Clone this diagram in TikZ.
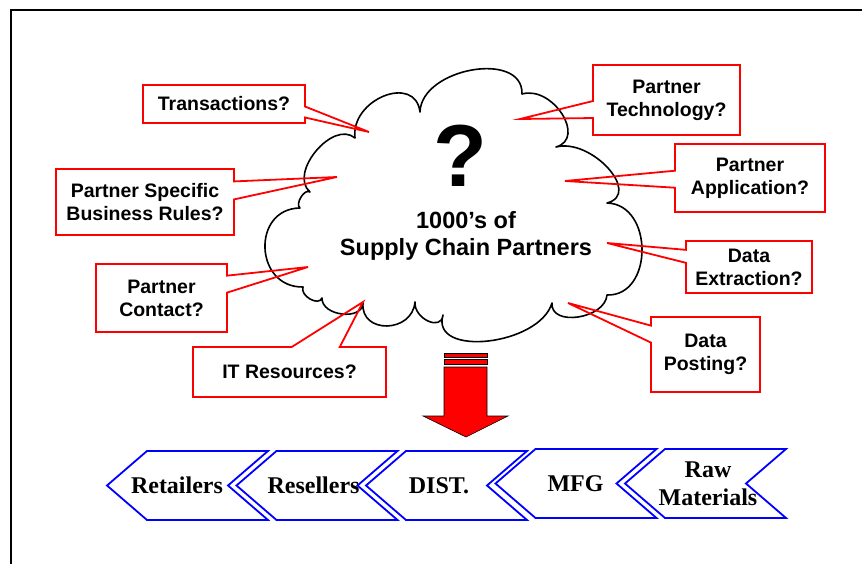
\documentclass[tikz,border=0pt]{standalone}
\usepackage{fontspec}
\setmainfont{Liberation Sans}
\newfontfamily\chevfont{Liberation Serif}
\usetikzlibrary{shapes.callouts}

\begin{document}
\begin{tikzpicture}[x=1pt, y=-1pt,
  every node/.style={font=\bfseries\fontsize{19.5}{23}\selectfont},
  note/.style={rectangle callout, draw=red, line width=1.8pt, align=center, inner sep=0pt},
  chev/.style={draw=blue, line width=1.8pt, line join=miter},
  chevtext/.style={font=\chevfont\bfseries\fontsize{24}{28}\selectfont, align=center},
  cloudline/.style={draw=black, line width=1.6pt, line join=round, fill=white},
  bigarrow/.style={fill=red, draw=black, line width=0.6pt}
]
  \useasboundingbox (0,0) rectangle (862,564);
  \draw[line width=2.5pt] (11,564) -- (11,10) -- (862,10);

  \draw[cloudline] (355,138)
    .. controls (350.3,99.3) and (415.3,73.3) .. (420,112)
    .. controls (421.3,68) and (523.3,50) .. (522,94)
    .. controls (552.7,85.3) and (586.7,138.3) .. (556,147)
    .. controls (591.3,137.7) and (642.3,193.7) .. (607,203)
    .. controls (653.7,204.3) and (653.7,296.3) .. (607,295)
    .. controls (605,319) and (550,327) .. (552,303)
    .. controls (539.3,345.7) and (430.3,357.7) .. (443,315)
    .. controls (441.7,331.7) and (413.7,318.7) .. (415,302)
    .. controls (412.3,333.3) and (360.3,334.3) .. (363,303)
    .. controls (362.3,321) and (321.3,316) .. (322,298)
    .. controls (318.7,306.7) and (299.7,295.7) .. (303,287)
    .. controls (254.3,287.7) and (251.3,208.7) .. (300,208)
    .. controls (294.7,204) and (304.7,188) .. (310,192)
    .. controls (288,173.3) and (333,119.3) .. (355,138) -- cycle;

  \node[anchor=base, font=\bfseries\fontsize{88}{88}\selectfont] (qmark) at (460,187) {?};
  \node[font=\bfseries\fontsize{23.5}{27}\selectfont, align=center] (partners) at (466,236)
    {1000’s of\\Supply Chain Partners};

  \node[note, minimum width=162pt, minimum height=38pt, callout pointer width=11pt,
        callout absolute pointer={(369,132)}] (trans) at (224,104) {Transactions?};
  \node[note, minimum width=178pt, minimum height=66pt, callout pointer width=18pt,
        callout absolute pointer={(337,177)}] (rules) at (145,202) {Partner Specific\\Business Rules?};
  \node[note, minimum width=131pt, minimum height=68pt, callout pointer width=17pt,
        callout absolute pointer={(308,267)}] (contact) at (161.5,298) {Partner\\Contact?};
  \node[note, minimum width=193pt, minimum height=50pt, callout pointer width=48pt,
        callout absolute pointer={(363,302)}] (itres) at (289.5,372) {IT Resources?};
  \node[note, minimum width=147pt, minimum height=70pt, callout pointer width=17pt,
        callout absolute pointer={(520,119)}] (tech) at (666.5,100) {Partner\\Technology?};
  \node[note, minimum width=150pt, minimum height=68pt, callout pointer width=17pt,
        callout absolute pointer={(565,181)}] (appl) at (750,178) {Partner\\Application?};
  \node[note, minimum width=126pt, minimum height=52pt, callout pointer width=13pt,
        callout absolute pointer={(607,243)}] (extr) at (749,267) {Data\\Extraction?};
  \node[note, minimum width=109pt, minimum height=75pt, callout pointer width=17pt,
        callout absolute pointer={(568,303)}] (post) at (705.5,354.5) {Data\\Posting?};

  \draw[bigarrow] (444,353) rectangle (487,357);
  \draw[bigarrow] (444,359) rectangle (487,364);
  \draw[bigarrow] (444,367) -- (487,367) -- (487,416) -- (508,416) -- (466,437)
    -- (423,416) -- (444,416) -- cycle;

  \foreach \tip/\ymid/\off/\nm/\txt in {107/485.5/70/retail/Retailers,
      236.5/485.5/77/resell/Resellers, 366/485.5/73/dist/DIST.,
      495.5/483.5/80/mfg/MFG, 625/483.5/83/raw/{Raw\\Materials}}{
    \draw[chev] (\tip,\ymid) -- ++(40,-34.5) -- ++(121,0) -- ++(-40,34.5)
      -- ++(40,34.5) -- ++(-121,0) -- cycle;
    \node[chevtext] (\nm) at (\tip+\off,\ymid) {\txt};
  }
\end{tikzpicture}
\end{document}
